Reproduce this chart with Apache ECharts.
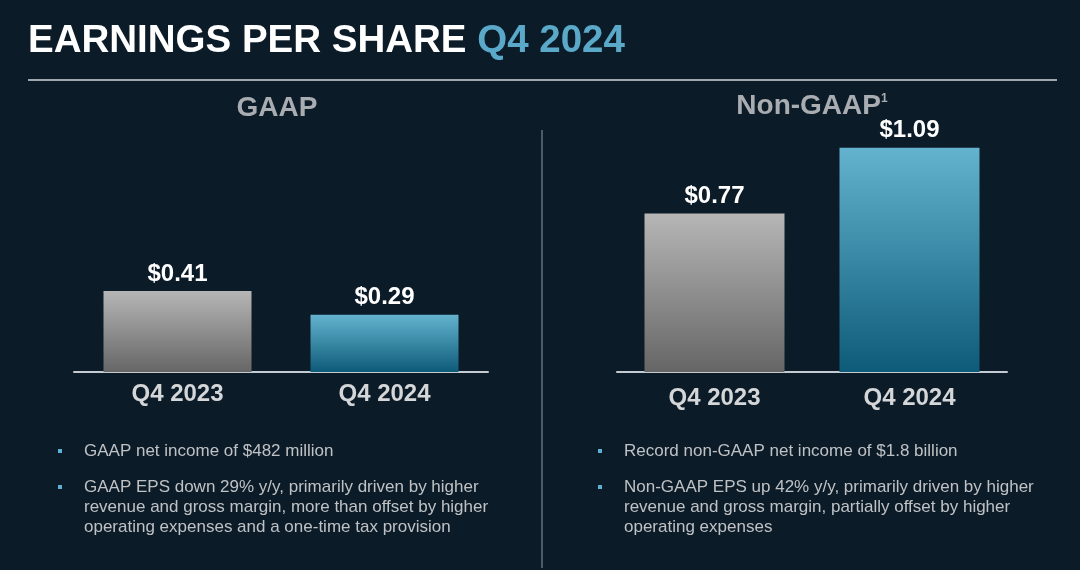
<!DOCTYPE html>
<html>
<head>
<meta charset="utf-8">
<script src="https://cdn.jsdelivr.net/npm/echarts@6/dist/echarts.min.js"></script>
<style>
html,body{margin:0;padding:0;background:#0c1b28;}
#chart{width:1080px;height:570px;}
</style>
</head>
<body>
<div id="chart"></div>
<script>
const categories = ['Q4 2023', 'Q4 2024'];
const gaapEps = [0.41, 0.29];
const nonGaapEps = [0.77, 1.09];
const panelTitles = ['GAAP', 'Non-GAAP'];
const gaapNotes = [
  'GAAP net income of $482 million',
  'GAAP EPS down 29% y/y, primarily driven by higher\nrevenue and gross margin, more than offset by higher\noperating expenses and a one-time tax provision'
];
const nonGaapNotes = [
  'Record non-GAAP net income of $1.8 billion',
  'Non-GAAP EPS up 42% y/y, primarily driven by higher\nrevenue and gross margin, partially offset by higher\noperating expenses'
];

const FONT = '"Liberation Sans", Arial, sans-serif';
const chart = echarts.init(document.getElementById('chart'), null, {renderer: 'canvas'});

function grad(top, bottom) {
  return new echarts.graphic.LinearGradient(0, 0, 0, 1, [
    {offset: 0, color: top}, {offset: 1, color: bottom}
  ]);
}
const grayGrad = grad('#b6b6b6', '#666666');
const blueGrad = grad('#63b3cf', '#0d5b78');

function barData(values) {
  return values.map((v, i) => ({
    value: v,
    itemStyle: {color: i === 0 ? grayGrad : blueGrad}
  }));
}

const labelCfg = {
  show: true, position: 'top', distance: 5,
  color: '#ffffff', fontFamily: FONT, fontWeight: 'bold', fontSize: 24,
  formatter: p => '$' + p.value.toFixed(2)
};

function xAxisCfg(gridIndex, margin) {
  return {
    type: 'category', gridIndex, data: categories,
    axisLine: {show: true, lineStyle: {color: '#c3cad1', width: 2}},
    axisTick: {show: false},
    axisLabel: {color: '#d4d6d8', fontFamily: FONT, fontWeight: 'bold', fontSize: 24, margin}
  };
}
function yAxisCfg(gridIndex) {
  return {type: 'value', gridIndex, min: 0, max: 1.2, show: false, splitLine: {show: false}};
}

function notes(list, x0) {
  const els = [];
  const ys = [451, 487];
  list.forEach((t, i) => {
    els.push({
      type: 'rect', shape: {x: x0 - 2, y: ys[i] - 2, width: 4, height: 4},
      style: {fill: '#5fb0d2'}
    });
    els.push({
      type: 'text', x: x0 + 24, y: ys[i] - 10,
      style: {text: t, fill: '#bfc2c5', font: '17px ' + FONT, lineHeight: 20, textVerticalAlign: 'top'}
    });
  });
  return els;
}

const option = {
  backgroundColor: '#0c1b28',
  animation: false,
  grid: [
    {left: 74, width: 414, top: 135, bottom: 198},
    {left: 617, width: 390, top: 125, bottom: 198}
  ],
  xAxis: [xAxisCfg(0, 10), xAxisCfg(1, 14)],
  yAxis: [yAxisCfg(0), yAxisCfg(1)],
  series: [
    {type: 'bar', xAxisIndex: 0, yAxisIndex: 0, barWidth: 148, data: barData(gaapEps), label: labelCfg},
    {type: 'bar', xAxisIndex: 1, yAxisIndex: 1, barWidth: 140, data: barData(nonGaapEps), label: labelCfg}
  ],
  graphic: [
    {
      type: 'text', x: 28, y: 41,
      style: {
        text: '{a|EARNINGS PER SHARE }{b|Q4 2024}',
        textVerticalAlign: 'middle',
        rich: {
          a: {fill: '#ffffff', fontFamily: FONT, fontWeight: 'bold', fontSize: 38.5},
          b: {fill: '#5aa9c9', fontFamily: FONT, fontWeight: 'bold', fontSize: 38.5}
        }
      }
    },
    {type: 'line', shape: {x1: 28, y1: 80, x2: 1057, y2: 80}, style: {stroke: '#a0a6ad', lineWidth: 2}},
    {type: 'line', shape: {x1: 542, y1: 130, x2: 542, y2: 568}, style: {stroke: '#4a5b6a', lineWidth: 2}},
    {
      type: 'text', x: 277, y: 108,
      style: {text: panelTitles[0], fill: '#a9adb1', font: 'bold 28px ' + FONT, textAlign: 'center', textVerticalAlign: 'middle'}
    },
    {
      type: 'text', x: 812, y: 106,
      style: {
        text: '{t|' + panelTitles[1] + '}{s|1}',
        textAlign: 'center', textVerticalAlign: 'middle',
        rich: {
          t: {fill: '#a9adb1', fontFamily: FONT, fontWeight: 'bold', fontSize: 28},
          s: {fill: '#a9adb1', fontFamily: FONT, fontWeight: 'bold', fontSize: 12, padding: [0, 0, 14, 0]}
        }
      }
    },
    ...notes(gaapNotes, 60),
    ...notes(nonGaapNotes, 600)
  ]
};
chart.setOption(option);
</script>
</body>
</html>
